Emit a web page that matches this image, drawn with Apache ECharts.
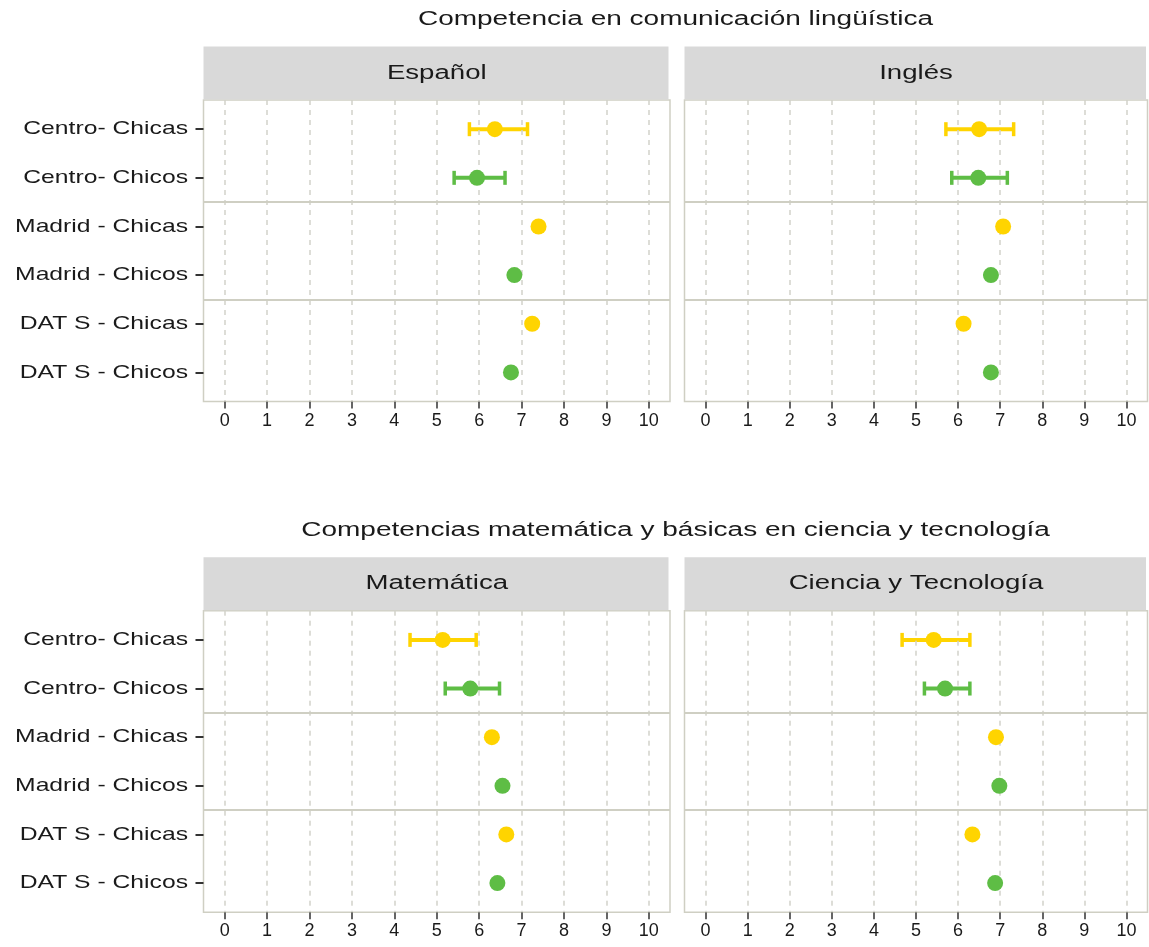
<!DOCTYPE html>
<html>
<head>
<meta charset="utf-8">
<script src="https://cdn.jsdelivr.net/npm/echarts@6/dist/echarts.min.js"></script>
<style>
html,body{margin:0;padding:0;background:#ffffff;}
#chart{width:1149px;height:947px;}
</style>
</head>
<body>
<div id="chart"></div>
<script>
// ---------- data ----------
const rowLabels = ['Centro- Chicas', 'Centro- Chicos', 'Madrid - Chicas', 'Madrid - Chicos', 'DAT S - Chicas', 'DAT S - Chicos'];
const rowIndex = [0, 1, 2, 3, 4, 5];
const xTicks = [0, 1, 2, 3, 4, 5, 6, 7, 8, 9, 10];
const sectionTitles = ['Competencia en comunicación lingüística', 'Competencias matemática y básicas en ciencia y tecnología'];
const panelNames = ['Español', 'Inglés', 'Matemática', 'Ciencia y Tecnología'];

const espanol = [6.37, 5.95, 7.40, 6.83, 7.25, 6.75];
const espanolLow = [5.77, 5.41];
const espanolHigh = [7.14, 6.61];

const ingles = [6.50, 6.48, 7.07, 6.78, 6.13, 6.78];
const inglesLow = [5.71, 5.85];
const inglesHigh = [7.32, 7.17];

const matematica = [5.14, 5.79, 6.30, 6.55, 6.64, 6.43];
const matematicaLow = [4.37, 5.20];
const matematicaHigh = [5.93, 6.48];

const ciencia = [5.42, 5.69, 6.90, 6.98, 6.34, 6.88];
const cienciaLow = [4.67, 5.20];
const cienciaHigh = [6.28, 6.28];

const separators = [1.5, 3.5];

// ---------- style ----------
const colorChicas = '#FFD400';
const colorChicos = '#5EBD45';
const rowColor = i => (i % 2 === 0 ? colorChicas : colorChicos);
const textColor = '#1a1a1a';
const frameColor = '#CFCFC3';
const gridLineColor = '#D2D2CA';
const FONT = '"Liberation Sans", Arial, sans-serif';

const panels = [
  { name: panelNames[0], values: espanol, low: espanolLow, high: espanolHigh },
  { name: panelNames[1], values: ingles, low: inglesLow, high: inglesHigh },
  { name: panelNames[2], values: matematica, low: matematicaLow, high: matematicaHigh },
  { name: panelNames[3], values: ciencia, low: cienciaLow, high: cienciaHigh }
];

const layout = [
  { left: 203.5, top: 100, width: 466.5, height: 301.6 },
  { left: 684.5, top: 100, width: 463, height: 301.6 },
  { left: 203.5, top: 610.7, width: 466.5, height: 301.6 },
  { left: 684.5, top: 610.7, width: 463, height: 301.6 }
];
const stripH = 53.5;

const grids = [], xAxes = [], yAxes = [], series = [];

panels.forEach((p, k) => {
  const L = layout[k];
  grids.push({
    left: L.left, top: L.top, width: L.width, height: L.height,
    show: true, borderColor: frameColor, borderWidth: 1.5, backgroundColor: '#ffffff',
    containLabel: false, outerBoundsMode: 'none'
  });
  xAxes.push({
    type: 'value', gridIndex: k, min: -0.5, max: 10.5, position: 'bottom',
    axisLine: { show: false, onZero: false },
    splitLine: { show: false },
    axisTick: { show: true, customValues: xTicks, length: 7, inside: false, lineStyle: { color: '#333333', width: 1.5 } },
    axisLabel: { show: true, customValues: xTicks, margin: 10, color: textColor, fontSize: 18, fontFamily: FONT }
  });
  const isLeft = (k % 2 === 0);
  yAxes.push({
    type: 'value', gridIndex: k, min: -0.6, max: 5.6, inverse: true, position: 'left',
    axisLine: { show: false, onZero: false },
    splitLine: { show: false },
    axisTick: { show: isLeft, customValues: rowIndex, length: 8, inside: false, lineStyle: { color: '#333333', width: 2 } },
    axisLabel: { show: false }
  });

  // grid lines + separators
  series.push({
    type: 'scatter', xAxisIndex: k, yAxisIndex: k, data: [], z: 1, silent: true,
    markLine: {
      silent: true, symbol: ['none', 'none'], label: { show: false }, animation: false,
      emphasis: { disabled: true },
      data: xTicks.map(v => ({ xAxis: v, lineStyle: { color: gridLineColor, width: 1.5, type: [5, 5] } }))
        .concat(separators.map(v => ({ yAxis: v, lineStyle: { color: frameColor, width: 2, type: 'solid' } })))
    }
  });

  // error bars
  series.push({
    type: 'custom', xAxisIndex: k, yAxisIndex: k, z: 4, silent: true,
    encode: { x: [0, 1], y: 2 },
    data: p.low.map((lo, i) => [lo, p.high[i], rowIndex[i]]),
    renderItem: function (params, api) {
      const idx = api.value(2);
      const a = api.coord([api.value(0), idx]);
      const b = api.coord([api.value(1), idx]);
      const c = rowColor(idx);
      const h = 7;
      return {
        type: 'group', children: [
          { type: 'line', shape: { x1: a[0], y1: a[1], x2: b[0], y2: b[1] }, style: { stroke: c, lineWidth: 4 } },
          { type: 'line', shape: { x1: a[0], y1: a[1] - h, x2: a[0], y2: a[1] + h }, style: { stroke: c, lineWidth: 3.5 } },
          { type: 'line', shape: { x1: b[0], y1: b[1] - h, x2: b[0], y2: b[1] + h }, style: { stroke: c, lineWidth: 3.5 } }
        ]
      };
    }
  });

  // points
  series.push({
    type: 'scatter', xAxisIndex: k, yAxisIndex: k, z: 5, symbol: 'circle', symbolSize: 16,
    data: p.values.map((v, i) => ({ value: [v, rowIndex[i]], itemStyle: { color: rowColor(i), opacity: 1 } }))
  });
});

const chart = echarts.init(document.getElementById('chart'), null, { renderer: 'canvas' });
chart.setOption({
  animation: false,
  backgroundColor: '#ffffff',
  grid: grids, xAxis: xAxes, yAxis: yAxes, series: series
});

// ---------- text / strips ----------
function txt(text, x, y, size, sx, align) {
  return {
    type: 'text', x: x, y: y, scaleX: sx, silent: true, z: 20,
    style: {
      text: text, x: 0, y: 0, fill: textColor, fontSize: size, fontFamily: FONT,
      align: align, verticalAlign: 'middle', textAlign: align, textVerticalAlign: 'middle'
    }
  };
}
const graphics = [];
const titleCx = (layout[0].left + layout[1].left + layout[1].width) / 2;
graphics.push(txt(sectionTitles[0], titleCx, 19, 20, 1.4, 'center'));
graphics.push(txt(sectionTitles[1], titleCx, 530, 20, 1.4, 'center'));
panels.forEach((p, k) => {
  const L = layout[k];
  graphics.push({
    type: 'rect', silent: true, z: 10,
    shape: { x: L.left, y: L.top - stripH, width: L.width - 1.5, height: stripH - 0.5 },
    style: { fill: '#D9D9D9' }
  });
  graphics.push(txt(p.name, L.left + L.width / 2, L.top - stripH / 2, 20, 1.38, 'center'));
  if (k % 2 === 0) {
    rowIndex.forEach(i => {
      const pt = chart.convertToPixel({ gridIndex: k }, [0, i]);
      graphics.push(txt(rowLabels[i], 188, pt[1], 19, 1.3, 'right'));
    });
  }
});
chart.setOption({ graphic: graphics });
</script>
</body>
</html>
